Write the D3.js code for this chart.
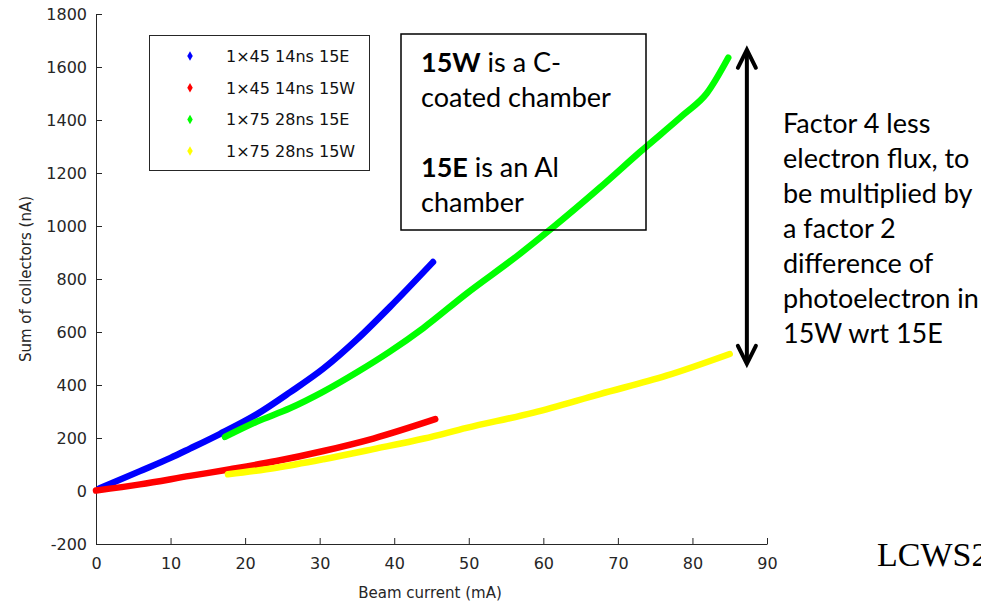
<!DOCTYPE html>
<html>
  <head>
    <meta charset="utf-8" />
    <title>Sum of collectors vs beam current</title>
    <script src="https://d3js.org/d3.v7.min.js"></script>
    <style>
        body { margin: 0; background: #fff; }
        .axis text { font-family: "DejaVu Sans", sans-serif; font-size: 16px; fill: #262626; }
        .axis path, .axis line { stroke: #262626; }
        .lbl { font-family: "DejaVu Sans", sans-serif; font-size: 15px; fill: #262626; }
        .legend text { font-family: "DejaVu Sans", sans-serif; font-size: 16px; fill: #111; }
        .note { font-family: Lato, "Open Sans", sans-serif; font-size: 27px; fill: #000; }
    </style>
  </head>
  <body>
<svg width="981" height="603"></svg>

    <script type="text/javascript">
        // values: [beam current (mA), sum of collectors (nA)]
        var blue15E = [[0.5, 10], [5.9, 75], [10, 125], [12.6, 160], [16.6, 215], [21.6, 290],
                       [26.0, 372], [30.5, 462], [35.0, 572], [39.4, 694], [45.2, 864]];
        var red15W = [[0, 2], [5.9, 25], [12.6, 57], [18.0, 82], [24.2, 113], [30.5, 151],
                      [37.2, 198], [45.5, 271]];
        var green15E = [[17.3, 204], [21.6, 262], [26.0, 312], [30.5, 375], [35.0, 448], [39.4, 526],
                        [43.9, 615], [49.7, 745], [56.4, 885], [61.3, 995], [67.6, 1145],
                        [73.0, 1280], [78.8, 1420], [81.9, 1500], [84.8, 1635]];
        var yellow15W = [[17.7, 63], [24.2, 88], [30.5, 120], [37.2, 158], [44.0, 198], [49.7, 238],
                         [58.7, 296], [67.6, 366], [76.5, 435], [85.0, 517]];

        var seriesNames = ["1\u00d745 14ns 15E", "1\u00d745 14ns 15W", "1\u00d775 28ns 15E", "1\u00d775 28ns 15W"];
        var seriesColors = ["#0000ff", "#ff0000", "#00ff00", "#ffff00"];
        var seriesData = [blue15E, red15W, green15E, yellow15W];

        var xTicks = [0, 10, 20, 30, 40, 50, 60, 70, 80, 90];
        var yTicks = [-200, 0, 200, 400, 600, 800, 1000, 1200, 1400, 1600, 1800];

        var note1 = [["15W", " is a C-"], ["", "coated chamber"], ["", ""], ["15E", " is an Al"], ["", "chamber"]];
        var note2 = ["Factor 4 less", "electron flux, to", "be multiplied by", "a factor 2",
                     "difference of", "photoelectron in", "15W wrt 15E"];

        var svg = d3.select("svg");
        svg.append("rect").attr("width", 981).attr("height", 603).attr("fill", "#fff");

        var x = d3.scaleLinear().domain([0, 90]).range([96, 767]);
        var y = d3.scaleLinear().domain([-200, 1800]).range([544, 14]);

        // axes (box off, ticks pointing inward)
        svg.append("g")
            .attr("class", "axis")
            .attr("transform", "translate(0," + y(-200) + ")")
            .call(d3.axisBottom(x).tickValues(xTicks).tickSize(-6).tickSizeOuter(0)
                .tickPadding(14).tickFormat(function(d) { return String(d); }));

        svg.append("g")
            .attr("class", "axis")
            .attr("transform", "translate(" + x(0) + ",0)")
            .call(d3.axisLeft(y).tickValues(yTicks).tickSize(-6).tickSizeOuter(0)
                .tickPadding(9).tickFormat(function(d) { return String(d); }));

        svg.append("text").attr("class", "lbl")
            .attr("x", 430).attr("y", 598).attr("text-anchor", "middle")
            .text("Beam current (mA)");
        svg.append("text").attr("class", "lbl")
            .attr("transform", "translate(31," + y(800) + ") rotate(-90)")
            .attr("text-anchor", "middle")
            .text("Sum of collectors (nA)");

        // data
        var line = d3.line()
            .x(function(d) { return x(d[0]); })
            .y(function(d) { return y(d[1]); })
            .curve(d3.curveMonotoneX);

        seriesData.forEach(function(s, i) {
            svg.append("path")
                .datum(s)
                .attr("d", line)
                .attr("fill", "none")
                .attr("stroke", seriesColors[i])
                .attr("stroke-width", 6.5)
                .attr("stroke-linecap", "round")
                .attr("stroke-linejoin", "round");
        });

        // legend
        var lg = svg.append("g").attr("class", "legend");
        lg.append("rect")
            .attr("x", 149.5).attr("y", 35.5).attr("width", 220).attr("height", 135)
            .attr("fill", "#fff").attr("stroke", "#262626");
        seriesNames.forEach(function(n, i) {
            var yy = 56 + i * 31.7;
            lg.append("path")
                .attr("d", d3.symbol(d3.symbolDiamond).size(26))
                .attr("transform", "translate(190," + yy + ")")
                .attr("fill", seriesColors[i]);
            lg.append("text")
                .attr("x", 226).attr("y", yy + 6)
                .text(n);
        });

        // text box (no fill, the green trace shows through)
        svg.append("rect")
            .attr("x", 401).attr("y", 34).attr("width", 245).attr("height", 196)
            .attr("fill", "none").attr("stroke", "#000").attr("stroke-width", 1.5);
        note1.forEach(function(l, i) {
            var t = svg.append("text").attr("class", "note")
                .attr("x", 421).attr("y", 72 + i * 35);
            t.append("tspan").attr("font-weight", "bold").text(l[0]);
            t.append("tspan").text(l[1]);
        });

        // arrow between green and yellow ends
        var ax = x(87.3), yTop = y(1665), yBot = y(480);
        svg.append("line")
            .attr("x1", ax).attr("x2", ax).attr("y1", yTop + 2).attr("y2", yBot - 2)
            .attr("stroke", "#000").attr("stroke-width", 4);
        svg.append("path")
            .attr("d", "M" + (ax - 9) + "," + (yTop + 18) + "L" + ax + "," + yTop + "L" + (ax + 9) + "," + (yTop + 18))
            .attr("fill", "none").attr("stroke", "#000").attr("stroke-width", 4)
            .attr("stroke-linecap", "round").attr("stroke-linejoin", "miter");
        svg.append("path")
            .attr("d", "M" + (ax - 9) + "," + (yBot - 18) + "L" + ax + "," + yBot + "L" + (ax + 9) + "," + (yBot - 18))
            .attr("fill", "none").attr("stroke", "#000").attr("stroke-width", 4)
            .attr("stroke-linecap", "round").attr("stroke-linejoin", "miter");

        note2.forEach(function(l, i) {
            svg.append("text").attr("class", "note")
                .attr("x", 783).attr("y", 133 + i * 35)
                .text(l);
        });

        svg.append("text")
            .attr("x", 877).attr("y", 566)
            .attr("font-family", "'Liberation Serif', serif")
            .attr("font-size", 34)
            .text("LCWS2");
    </script>
  </body>
</html>
